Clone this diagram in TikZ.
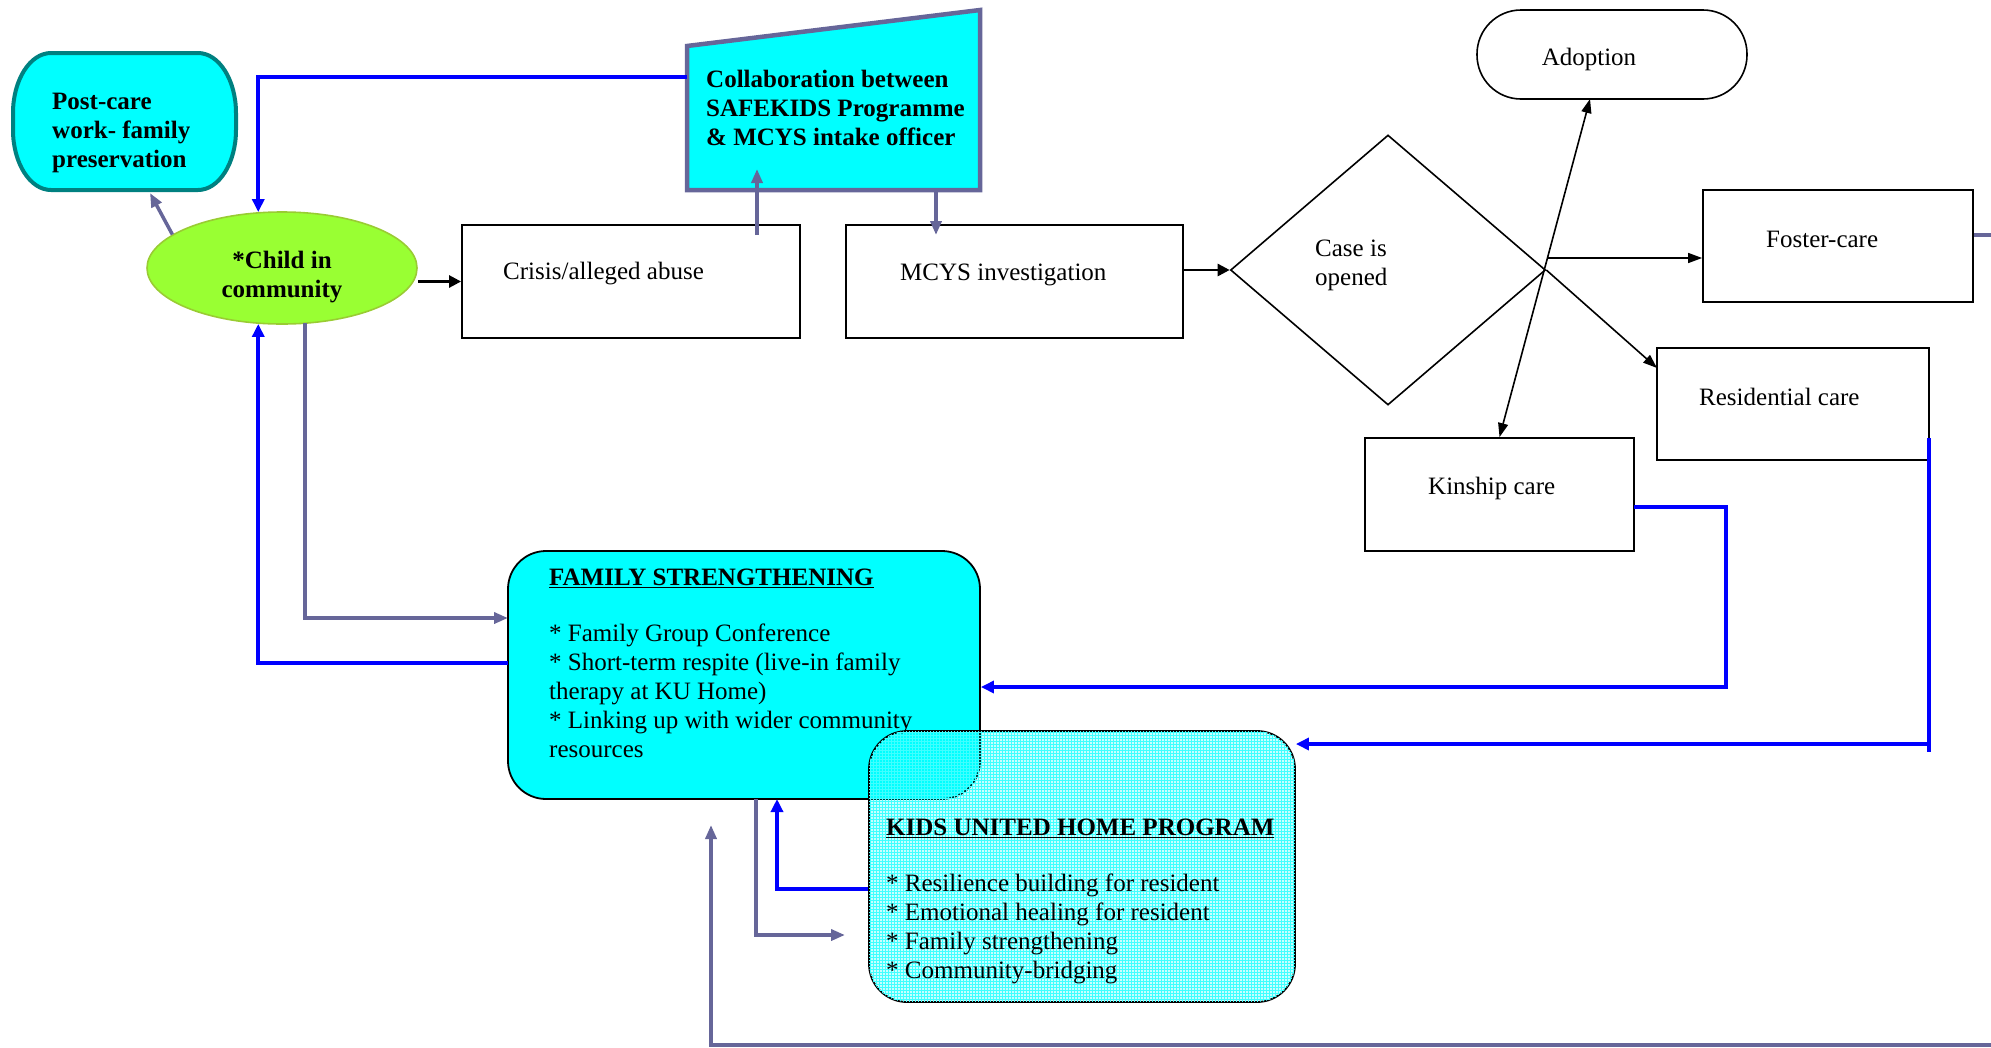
\documentclass[tikz,border=0pt]{standalone}
\usepackage{fontspec}
\setmainfont{Liberation Serif}
\usetikzlibrary{shapes.geometric,arrows.meta,patterns}
\definecolor{cyanF}{HTML}{00FFFF}
\definecolor{childgreen}{HTML}{99FF33}
\definecolor{childedge}{HTML}{99CC33}
\definecolor{tealc}{HTML}{008080}
\definecolor{slate}{HTML}{666699}
\definecolor{myblue}{HTML}{0000FF}
\begin{document}
\begin{tikzpicture}[x=1pt,y=-1pt,
  plainbox/.style={draw=black,line width=1.8pt,rectangle,inner sep=0pt},
  txt/.style={inner sep=0pt,font=\fontsize{25}{28.9}\selectfont,align=left},
  btxt/.style={inner sep=0pt,font=\fontsize{25}{28.9}\selectfont\bfseries,align=left},
  bluearr/.style={draw=myblue,line width=4pt,-{Triangle[length=13pt,width=12pt]}},
  bluel/.style={draw=myblue,line width=4pt},
  slatearr/.style={draw=slate,line width=3.5pt,-{Triangle[length=14pt,width=11pt]}},
  blkarr/.style={draw=black,line width=2.6pt,-{Triangle[length=12pt,width=12pt]}},
  thinarr/.style={draw=black,line width=1.6pt,-{Triangle[length=14pt,width=10pt]}},
  dblarr/.style={draw=black,line width=1.6pt,{Triangle[length=14pt,width=10pt]}-{Triangle[length=14pt,width=10pt]}}]
\useasboundingbox (0,0) rectangle (1991,1047);
\clip (0,0) rectangle (1991,1047);

% ---- shapes ----
\node[rectangle,minimum width=223pt,minimum height=137pt,inner sep=0pt] (post) at (124.5,121.5) {};
\path[draw=tealc,line width=4pt,fill=cyanF]
  (51,53) -- (198,53) .. controls (219,53) and (236,80) .. (236,113)
  -- (236,130) .. controls (236,163) and (219,190) .. (198,190)
  -- (51,190) .. controls (30,190) and (13,163) .. (13,130)
  -- (13,113) .. controls (13,80) and (30,53) .. (51,53) -- cycle;
\node[ellipse,draw=childedge,line width=1.6pt,fill=childgreen,
      minimum width=270pt,minimum height=112pt,inner sep=0pt] (child) at (282,268) {};
\path[draw=slate,line width=4.5pt,fill=cyanF,line join=miter]
  (687,46) coordinate (collabTL) -- (980,10) -- (980,190) -- (687,190) coordinate (collabBL) -- cycle;
\node[plainbox,minimum width=338pt,minimum height=113pt] (crisis) at (631,281.5) {};
\node[plainbox,minimum width=337pt,minimum height=113pt] (mcys) at (1014.5,281.5) {};
\node[diamond,draw=black,line width=1.6pt,minimum width=315pt,minimum height=270pt,inner sep=0pt] (dia) at (1388,270) {};
\node[rectangle,rounded corners=44pt,draw=black,line width=1.6pt,
      minimum width=270pt,minimum height=89pt,inner sep=0pt] (adopt) at (1612,54.5) {};
\node[plainbox,minimum width=270pt,minimum height=112pt] (foster) at (1838,246) {};
\node[plainbox,minimum width=272pt,minimum height=112pt] (resid) at (1793,404) {};
\node[plainbox,minimum width=269pt,minimum height=113pt] (kin) at (1499.5,494.5) {};
\node[rectangle,rounded corners=38pt,draw=black,line width=1.8pt,fill=cyanF,
      minimum width=472pt,minimum height=248pt,inner sep=0pt] (fs) at (744,675) {};

% ---- texts ----
\node[btxt,anchor=north west] (posttxt) at (52,93) {Post-care\\work- family\\preservation};
\node[btxt,anchor=north west] (collabtxt) at (706,70) {Collaboration between\\SAFEKIDS Programme\\\& MCYS intake officer};
\node[btxt,align=center] (childtxt) at (282,277) {*Child in\\community};
\node[txt,anchor=west] (crisistxt) at (503,274) {Crisis/alleged abuse};
\node[txt,anchor=west] (mcystxt) at (900,275) {MCYS investigation};
\node[txt,anchor=north west] (casetxt) at (1315,240) {Case is\\opened};
\node[txt] (adopttxt) at (1589,59) {Adoption};
\node[txt,anchor=west] (fostertxt) at (1766,239) {Foster-care};
\node[txt,anchor=west] (residtxt) at (1699,397) {Residential care};
\node[txt,anchor=west] (kintxt) at (1428,488) {Kinship care};
\node[btxt,anchor=west] (fstitle) at (549,578) {\underline{FAMILY STRENGTHENING}};
\node[txt,anchor=north west] (fstxt) at (549,624) {* Family Group Conference\\* Short-term respite (live-in family\\therapy at KU Home)\\* Linking up with wider community\\resources};

% ---- kids united box (translucent, drawn over) ----
\node[rectangle,rounded corners=38pt,draw=black,line width=1.8pt,fill=cyanF,fill opacity=0.22,
      minimum width=426pt,minimum height=271pt,inner sep=0pt] (kids) at (1082,866.5) {};
\fill[pattern=grid,pattern color=cyanF!75!white,rounded corners=38pt]
  ([xshift=1pt,yshift=1pt]kids.south west) rectangle ([xshift=-1pt,yshift=-1pt]kids.north east);
\node[btxt,anchor=west] (kidstitle) at (886,828) {\underline{KIDS UNITED HOME PROGRAM}};
\node[txt,anchor=north west] (kidstxt) at (886,874) {* Resilience building for resident\\* Emotional healing for resident\\* Family strengthening\\* Community-bridging};

% ---- connectors ----
\coordinate (collabW) at (687,77);
\draw[bluearr] (collabW) -| (child.113);
\draw[slatearr] (child.163) -- (150,193);
\draw[blkarr] (child.east |- crisis.west) -- (crisis.west);
\coordinate (crisisUp) at (757,235);
\draw[slatearr] (crisisUp) -- (757,169);
\coordinate (collabDown) at (936,190);
\draw[slatearr] (collabDown) -- (936,235);
\draw[blkarr] (mcys.east |- dia.west) -- (dia.west);
\coordinate (branch) at (1547,258);
\draw[thinarr] (branch) -- (branch -| foster.west);
\draw[thinarr] (dia.east) -- (1657,368);
\draw[dblarr] (kin.north) -- (1590,99);
\draw[slatearr] (305,323) |- (508,618);
\draw[bluearr] (508,663) -| (child.247);
\draw[bluearr] (1634,507) -| (1726,687) -- (fs.east |- 0,687);
\draw[bluel] (1929,438) -- (1929,752);
\draw[bluearr] (1929,744) -- (kids.east |- 0,744);
\draw[slatearr] (foster.east |- 0,235) -- (2010,235) -- (2010,1045) -- (711,1045) -- (711,825);
\draw[slatearr] (756,799) |- (845,935);
\draw[bluearr] (kids.west |- 0,889) -| (777,799);
\end{tikzpicture}
\end{document}
